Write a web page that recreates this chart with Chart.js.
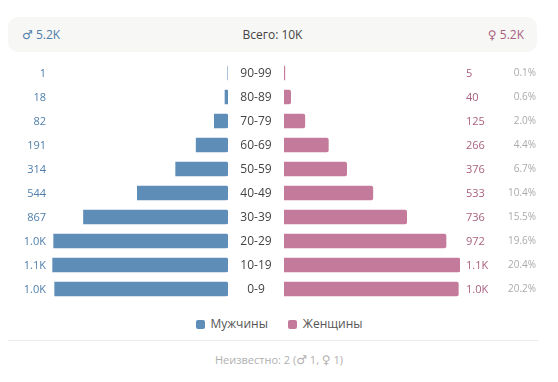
<!DOCTYPE html>
<html lang="ru">
<head>
<meta charset="utf-8">
<script src="https://cdn.jsdelivr.net/npm/chart.js@4/dist/chart.umd.min.js"></script>
<style>
  body { margin: 0; width: 558px; height: 382px; background: #fff; font-family: 'Open Sans', 'Noto Sans', sans-serif; position: relative; overflow: hidden; }
  .summary { position: absolute; left: 8px; top: 17px; width: 529px; height: 35px; background: #f7f7f5; border-radius: 10px; font-size: 12px; }
  .summary span { position: absolute; top: 0; line-height: 36px; }
  .male { color: #4f7eaa; left: 14px; }
  .female { color: #a9607f; right: 13px; }
  .total { color: #444; left: 0; right: 0; text-align: center; }
  .sym { font-family: 'DejaVu Sans', sans-serif; font-size: 12px; }
  canvas { position: absolute; }
  #male-chart { left: 0; top: 61px; }
  #female-chart { left: 228px; top: 61px; }
  .legend { position: absolute; left: 0; right: 0; top: 315px; display: flex; justify-content: center; gap: 20px; font-size: 12px; color: #555; }
  .legend i { display: inline-block; width: 9px; height: 9px; border-radius: 2px; margin-right: 6px; vertical-align: -0.5px; }
  .divider { position: absolute; left: 8px; width: 530px; top: 340px; border-top: 1px solid #ececec; }
  .unknown { position: absolute; left: 0; right: 0; top: 352px; text-align: center; font-size: 11px; color: #b0b0b0; }
</style>
</head>
<body>
<div class="summary">
  <span class="male" id="male-total"></span>
  <span class="total" id="grand-total"></span>
  <span class="female" id="female-total"></span>
</div>
<canvas id="male-chart" width="228" height="240"></canvas>
<canvas id="female-chart" width="330" height="240"></canvas>
<div class="legend">
  <span><i style="background:#5e8db8"></i>Мужчины</span>
  <span><i style="background:#c47a9a"></i>Женщины</span>
</div>
<div class="divider"></div>
<div class="unknown" id="unknown"></div>
<script>
const ageGroups = ['90-99', '80-89', '70-79', '60-69', '50-59', '40-49', '30-39', '20-29', '10-19', '0-9'];
const maleCounts = [1, 18, 82, 191, 314, 544, 867, 1046, 1052, 1040];
const femaleCounts = [5, 40, 125, 266, 376, 533, 736, 972, 1056, 1046];
const unknownMale = 1;
const unknownFemale = 1;

const maleColor = '#5e8db8';
const femaleColor = '#c47a9a';
const font = "'Open Sans', 'Noto Sans', sans-serif";

function sum(list) {
  return list.reduce((a, b) => a + b, 0);
}

function formatCount(value) {
  if (value >= 10000) return `${Math.round(value / 1000)}K`;
  if (value >= 1000) return `${(value / 1000).toFixed(1)}K`;
  return String(value);
}

const maleTotal = sum(maleCounts);
const femaleTotal = sum(femaleCounts);
const total = maleTotal + femaleTotal;
const maxValue = Math.max(...maleCounts, ...femaleCounts);

document.getElementById('male-total').innerHTML = `<span class="sym" style="position:static">♂</span> ${formatCount(maleTotal)}`;
document.getElementById('female-total').innerHTML = `<span class="sym" style="position:static">♀</span> ${formatCount(femaleTotal)}`;
document.getElementById('grand-total').textContent = `Всего: ${formatCount(total)}`;
document.getElementById('unknown').innerHTML =
  `Неизвестно: ${unknownMale + unknownFemale} (<span class="sym">♂</span> ${unknownMale}, <span class="sym">♀</span> ${unknownFemale})`;

// labels next to the bars, drawn from the scales
const maleLabels = {
  id: 'maleLabels',
  afterDatasetsDraw(chart) {
    const { ctx, chartArea, scales } = chart;
    ctx.save();
    ctx.font = `11px ${font}`;
    ctx.fillStyle = '#4f7eaa';
    ctx.textAlign = 'right';
    ctx.textBaseline = 'middle';
    maleCounts.forEach((v, i) => {
      ctx.fillText(formatCount(v), chartArea.left - 6, scales.y.getPixelForValue(i) + 0.5);
    });
    ctx.restore();
  },
};

const femaleLabels = {
  id: 'femaleLabels',
  afterDatasetsDraw(chart) {
    const { ctx, chartArea, scales } = chart;
    ctx.save();
    ctx.textBaseline = 'middle';
    femaleCounts.forEach((v, i) => {
      const y = scales.y.getPixelForValue(i) + 0.5;
      ctx.font = `12px ${font}`;
      ctx.fillStyle = '#444';
      ctx.textAlign = 'center';
      ctx.fillText(ageGroups[i], chartArea.left - 28, y);
      ctx.font = `11px ${font}`;
      ctx.fillStyle = '#a9607f';
      ctx.textAlign = 'left';
      ctx.fillText(formatCount(v), chartArea.right + 6, y);
      ctx.fillStyle = '#aaa';
      ctx.textAlign = 'right';
      const pct = ((maleCounts[i] + v) / total) * 100;
      ctx.font = `10px ${font}`;
      ctx.fillText(`${pct.toFixed(1)}%`, chartArea.right + 76, y);
    });
    ctx.restore();
  },
};

function baseOptions(reverse, padding) {
  return {
    indexAxis: 'y',
    responsive: false,
    animation: false,
    layout: { padding },
    scales: {
      x: { display: false, min: 0, max: maxValue, reverse, grid: { display: false } },
      y: { display: false, grid: { display: false } },
    },
    plugins: { legend: { display: false }, tooltip: { enabled: false } },
  };
}

new Chart(document.getElementById('male-chart'), {
  type: 'bar',
  data: {
    labels: ageGroups,
    datasets: [{
      label: 'Мужчины',
      data: maleCounts,
      backgroundColor: maleColor,
      barThickness: 14,
      borderRadius: 2,
      borderSkipped: 'end',
    }],
  },
  options: baseOptions(true, { left: 52, right: 0, top: 0, bottom: 0 }),
  plugins: [maleLabels],
});

new Chart(document.getElementById('female-chart'), {
  type: 'bar',
  data: {
    labels: ageGroups,
    datasets: [{
      label: 'Женщины',
      data: femaleCounts,
      backgroundColor: femaleColor,
      barThickness: 14,
      borderRadius: 2,
      borderSkipped: 'start',
    }],
  },
  options: baseOptions(false, { left: 56, right: 98, top: 0, bottom: 0 }),
  plugins: [femaleLabels],
});
</script>
</body>
</html>
